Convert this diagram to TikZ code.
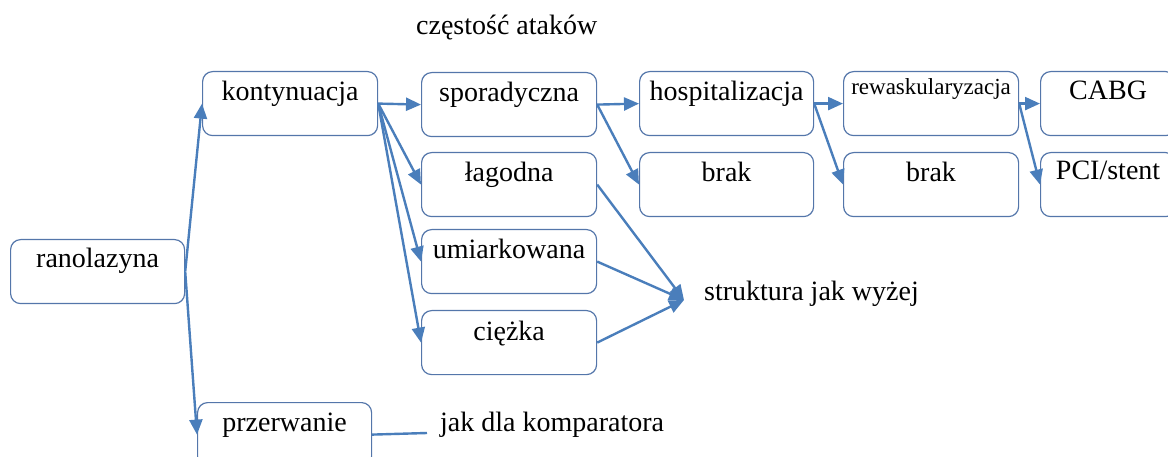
\documentclass[tikz,border=0pt]{standalone}
\usepackage{fontspec}
\setmainfont{Liberation Serif}
\usetikzlibrary{arrows.meta}
\definecolor{boxc}{RGB}{84,118,170}
\definecolor{arrc}{RGB}{74,126,187}
\begin{document}
\begin{tikzpicture}[x=1pt,y=-1pt,
  box/.style={draw=boxc, line width=1.2pt, rounded corners=10pt, minimum width=175pt, minimum height=64pt, anchor=north west, inner sep=0pt},
  txt/.style={font=\fontsize{28}{30}\selectfont, inner sep=0pt, anchor=base},
  small/.style={font=\fontsize{23}{25}\selectfont, inner sep=0pt, anchor=base},
  arr/.style={draw=arrc, line width=2.4pt, -{Triangle[length=15pt,width=13pt]}},
  ln/.style={draw=arrc, line width=2.4pt}]
\useasboundingbox (0,0) rectangle (1168,457);
\clip (0,0) rectangle (1168,457);
% boxes
\node[box, minimum width=174pt] (ran) at (10,239) {};
\node[box] (kont) at (202,71) {};
\node[box, minimum width=174pt] (przer) at (197,402) {};
\node[box] (spor) at (421,72) {};
\node[box] (lag) at (421,152) {};
\node[box] (umi) at (421,229) {};
\node[box] (ciez) at (421,310) {};
\node[box, minimum width=174pt] (hosp) at (639,71) {};
\node[box, minimum width=174pt] (brak1) at (639,152) {};
\node[box] (rew) at (843,71) {};
\node[box] (brak2) at (843,152) {};
\node[box, minimum width=135pt] (cabg) at (1040,71) {};
\node[box, minimum width=135pt] (pci) at (1040,152) {};
% box texts
\node[txt] (ranT) at ([yshift=-29pt]ran.north) {ranolazyna};
\node[txt] (kontT) at ([yshift=-30pt]kont.north) {kontynuacja};
\node[txt] (przerT) at ([yshift=-29pt]przer.north) {przerwanie};
\node[txt] (sporT) at ([yshift=-30pt]spor.north) {sporadyczna};
\node[txt] (lagT) at ([yshift=-30pt]lag.north) {łagodna};
\node[txt] (umiT) at ([yshift=-30pt]umi.north) {umiarkowana};
\node[txt] (ciezT) at ([yshift=-30pt]ciez.north) {ciężka};
\node[txt] (hospT) at ([yshift=-30pt]hosp.north) {hospitalizacja};
\node[txt] (brak1T) at ([yshift=-30pt]brak1.north) {brak};
\node[small] (rewT) at ([yshift=-24pt]rew.north) {rewaskularyzacja};
\node[txt] (brak2T) at ([yshift=-30pt]brak2.north) {brak};
\node[txt] (cabgT) at ([yshift=-29pt]cabg.north) {CABG};
\node[txt] (pciT) at ([yshift=-28pt]pci.north) {PCI/stent};
% free texts
\node[txt, anchor=base west] (czest) at (416,35) {częstość ataków};
\node[txt, anchor=base west] (strukt) at (704,301) {struktura jak wyżej};
\node[txt, anchor=base west] (komp) at (440,431) {jak dla komparatora};
\coordinate (merge) at (684,300);
\coordinate (kompEnd) at (427,433);
% connectors
\draw[arr] (ran.east) -- (kont.west);
\draw[arr] (ran.east) -- (przer.west);
\draw[arr] (kont.east) -- (spor.west);
\draw[arr] (kont.east) -- (lag.west);
\draw[arr] (kont.east) -- (umi.west);
\draw[arr] (kont.east) -- (ciez.west);
\draw[arr] (spor.east) -- (hosp.west);
\draw[arr] (spor.east) -- (brak1.west);
\draw[arr] (hosp.east) -- (rew.west);
\draw[arr] (hosp.east) -- (brak2.west);
\draw[arr] (rew.east) -- (cabg.west);
\draw[arr] (rew.east) -- (pci.west);
\draw[arr] (lag.east) -- (merge);
\draw[arr] (umi.east) -- (merge);
\draw[arr] (ciez.east) -- (merge);
\draw[ln] (przer.east) -- (kompEnd);
\end{tikzpicture}
\end{document}
